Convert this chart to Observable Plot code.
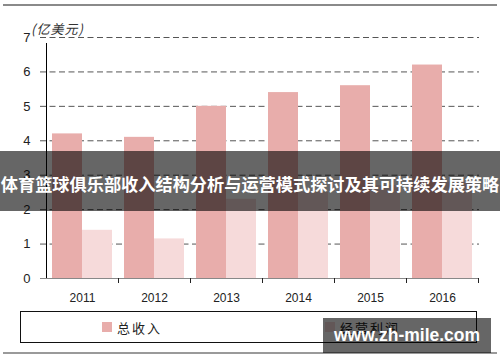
<!DOCTYPE html>
<html>
<head>
<meta charset="utf-8">
<script src="https://cdn.jsdelivr.net/npm/d3@7"></script>
<script src="https://cdn.jsdelivr.net/npm/@observablehq/plot@0.6"></script>
<style>
  html, body { margin: 0; padding: 0; background: #fff; }
  #wrap { position: relative; width: 500px; height: 362px; overflow: hidden; background: #fff; }
  #chart { position: absolute; left: 0; top: 0; }
  .abs { position: absolute; }
  #topline { left: 3px; top: 4px; width: 494px; height: 2px; background: #8a8a8a; }
  #botline { left: 3px; top: 352px; width: 494px; height: 2px; background: #9a9a9a; }
  #unit { left: 31px; top: 19px; font-family: "Noto Sans CJK SC", sans-serif; font-style: italic; font-size: 13px; color: #333; letter-spacing: 1px; }
  #legend { left: 20px; top: 311px; width: 455px; height: 30px; border: 1px solid #111; }
  .item { position: absolute; top: 0; height: 30px; display: flex; align-items: center; font-family: "Noto Sans CJK SC", sans-serif; font-size: 13px; color: #222; letter-spacing: 2px; }
  .sw { width: 10px; height: 10px; margin-right: 5px; }
  #banner { left: 0; top: 151px; width: 500px; height: 60px; background: rgba(0,0,0,0.6); color: #fff; font-family: "Noto Sans CJK SC", sans-serif; font-weight: bold; font-size: 17.2px; line-height: 60px; padding-top: 3px; box-sizing: border-box; text-align: center; white-space: nowrap; }
  #wm { left: 323px; top: 318px; width: 168px; height: 35px; background: rgba(0,0,0,0.6); color: #fff; font-family: "Liberation Sans", Arial, sans-serif; font-weight: bold; font-size: 17.5px; line-height: 35px; text-align: center; white-space: nowrap; }
</style>
</head>
<body>
<div id="wrap">
  <div id="chart"></div>
</div>
<script>
// ---- data ----
const years = ["2011", "2012", "2013", "2014", "2015", "2016"];
const revenue = [4.2, 4.1, 5.0, 5.4, 5.6, 6.2];
const profit = [1.4, 1.15, 2.3, 2.5, 2.7, 2.8];
const yTicks = [0, 1, 2, 3, 4, 5, 6, 7];
const seriesNames = ["总收入", "经营利润"];
const unitLabel = "(亿美元)";
const bannerText = "体育篮球俱乐部收入结构分析与运营模式探讨及其可持续发展策略";
const watermark = "www.zh-mile.com";

const revColor = "#E8ADAB";
const profColor = "#F6DADA";

const revRows = years.map((y, i) => ({year: y, value: revenue[i]}));
const profRows = years.map((y, i) => ({year: y, value: profit[i]}));

const chart = Plot.plot({
  width: 500,
  height: 310,
  marginLeft: 46,
  marginRight: 22,
  marginTop: 37,
  marginBottom: 32,
  x: {type: "band", domain: years, paddingInner: 0, paddingOuter: 0, axis: null},
  y: {domain: [0, 7], axis: null},
  style: {fontFamily: "'Liberation Sans', Arial, sans-serif", fontSize: "12px", color: "#222", background: "transparent"},
  marks: [
    Plot.ruleY(yTicks.filter(v => v > 0), {y: d => d, stroke: "#555", strokeDasharray: "6,3.5", insetLeft: -6, insetRight: -1}),
    Plot.barY(revRows, {x: "year", y: "value", fill: revColor, insetLeft: 6, insetRight: 36}),
    Plot.barY(profRows, {x: "year", y: "value", fill: profColor, insetLeft: 36, insetRight: 6}),
    Plot.ruleY([0], {y: d => d, stroke: "#888", insetLeft: -6}),
    Plot.ruleX([years[0]], {x: d => d, y1: 0, y2: 7, dx: -36, insetBottom: -6, stroke: "#000"}),
    Plot.ruleX(years, {x: d => d, y1: 0, y2: 0, dx: 36, insetBottom: -5, stroke: "#222"}),
    Plot.axisY(yTicks, {tickSize: 0, tickPadding: 16, fontSize: 13, fill: "#222", label: null}),
    Plot.axisX(years, {tickSize: 0, tickPadding: 15, fontSize: 12, fill: "#222", label: null})
  ]
});
document.getElementById("chart").appendChild(chart);

const wrap = document.getElementById("wrap");
function add(id, cls, text) {
  const d = document.createElement("div");
  d.id = id; d.className = cls;
  if (text != null) d.textContent = text;
  wrap.appendChild(d);
  return d;
}
add("topline", "abs");
add("unit", "abs", unitLabel);
const legend = add("legend", "abs");
const lefts = [81, 304];
const colors = [revColor, profColor];
seriesNames.forEach((n, i) => {
  const it = document.createElement("div");
  it.className = "item";
  it.style.left = lefts[i] + "px";
  const sw = document.createElement("span");
  sw.className = "sw";
  sw.style.background = colors[i];
  const t = document.createElement("span");
  t.textContent = n;
  it.appendChild(sw); it.appendChild(t);
  legend.appendChild(it);
});
add("botline", "abs");
add("banner", "abs", bannerText);
add("wm", "abs", watermark);
</script>
</body>
</html>
